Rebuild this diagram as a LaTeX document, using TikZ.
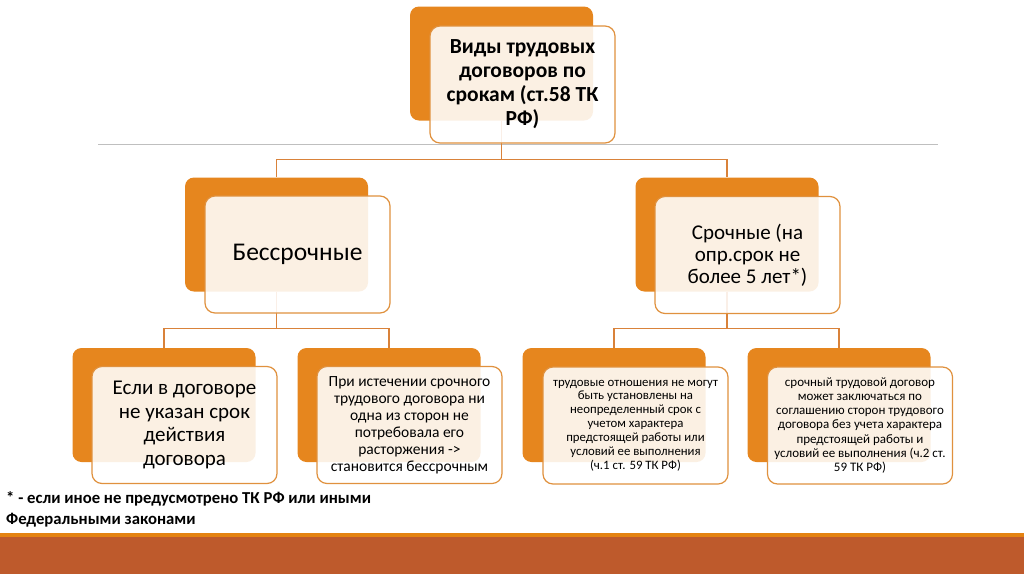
\documentclass[tikz,border=0pt]{standalone}
\usepackage{fontspec}
\setmainfont{Carlito}
\usetikzlibrary{positioning}
\definecolor{boxorange}{HTML}{E6861E}
\definecolor{edgeorange}{HTML}{E0913E}
\definecolor{connorange}{HTML}{D9823A}
\definecolor{bandbrown}{HTML}{BE5A2C}
\definecolor{bandorange}{HTML}{E48312}
\definecolor{rulegray}{HTML}{BFBFBF}
\tikzset{
  backbox/.style={fill=boxorange, draw=none, rounded corners=9pt, minimum width=183pt, minimum height=114pt, inner sep=0pt},
  frontbox/.style={fill=white, fill opacity=0.88, text opacity=1, draw=edgeorange, line width=1.2pt, rounded corners=10pt, minimum width=185pt, minimum height=117pt, inner sep=0pt, align=center, text=black},
  conn/.style={draw=connorange, line width=1.3pt},
}
\begin{document}
\begin{tikzpicture}[x=1pt,y=-1pt]
\useasboundingbox (0,0) rectangle (1024,574);
\fill[white] (0,0) rectangle (1024,574);
% bottom band
\fill[bandorange] (0,533) rectangle (1024,537);
\fill[bandbrown] (0,537) rectangle (1024,574);
% grey rule
\draw[rulegray, line width=1pt] (98,144) -- (938,144);
% back boxes (coordinates for connectors)
\coordinate (tpos) at (501.5,63.5);
\coordinate (lpos) at (276.5,234.5);
\coordinate (rpos) at (727,234.5);
\coordinate (apos) at (164,405);
\coordinate (bpos) at (389,405);
\coordinate (cpos) at (614,405);
\coordinate (dpos) at (839,405);
\node[backbox] (tb) at (tpos) {};
\node[backbox] (lb) at (lpos) {};
\node[backbox] (rb) at (rpos) {};
\node[backbox] (ab) at (apos) {};
\node[backbox] (bb) at (bpos) {};
\node[backbox] (cb) at (cpos) {};
\node[backbox] (db) at (dpos) {};
% connectors
\draw[conn] (tb.south) -- ++(0,39) -| (lb.north);
\draw[conn] (tb.south) -- ++(0,39) -| (rb.north);
\draw[conn] (lb.south) -- ++(0,37) -| (ab.north);
\draw[conn] (lb.south) -- ++(0,37) -| (bb.north);
\draw[conn] (rb.south) -- ++(0,37) -| (cb.north);
\draw[conn] (rb.south) -- ++(0,37) -| (db.north);
% front boxes
\node[frontbox, font=\fontsize{21.5}{24}\selectfont\bfseries] (tf) at (522.5,84.5) {Виды трудовых\\договоров по\\срокам (ст.58 ТК\\РФ)};
\node[frontbox, font=\fontsize{25.5}{28}\selectfont] (lf) at (297.5,254.5) {Бессрочные};
\node[frontbox, font=\fontsize{21}{22}\selectfont] (rf) at (747.5,255) {Срочные (на\\опр.срок не\\более 5 лет*)};
\node[frontbox, font=\fontsize{21}{23.4}\selectfont] (af) at (184.5,425) {Если в договоре\\не указан срок\\действия\\договора};
\node[frontbox, font=\fontsize{15.5}{17}\selectfont] (bf) at (409.5,425) {При истечении срочного\\трудового договора ни\\одна из сторон не\\потребовала его\\расторжения ->\\становится бессрочным};
\node[frontbox, font=\fontsize{12.8}{13.9}\selectfont] (cf) at (635.5,425.5) {трудовые отношения не могут\\быть установлены на\\неопределенный срок с\\учетом характера\\предстоящей работы или\\условий ее выполнения\\(ч.1 ст. 59 ТК РФ)};
\node[frontbox, font=\fontsize{13}{14.2}\selectfont] (df) at (860,425.5) {срочный трудовой договор\\может заключаться по\\соглашению сторон трудового\\договора без учета характера\\предстоящей работы и\\условий ее выполнения (ч.2 ст.\\59 ТК РФ)};
% footnote
\node[anchor=west, inner sep=0pt, font=\fontsize{16.7}{18}\selectfont\bfseries] (fn1) at (6,499) {* - если иное не предусмотрено ТК РФ или иными};
\node[anchor=west, inner sep=0pt, font=\fontsize{16.7}{18}\selectfont\bfseries] (fn2) at (6,520) {Федеральными законами};
\end{tikzpicture}
\end{document}
